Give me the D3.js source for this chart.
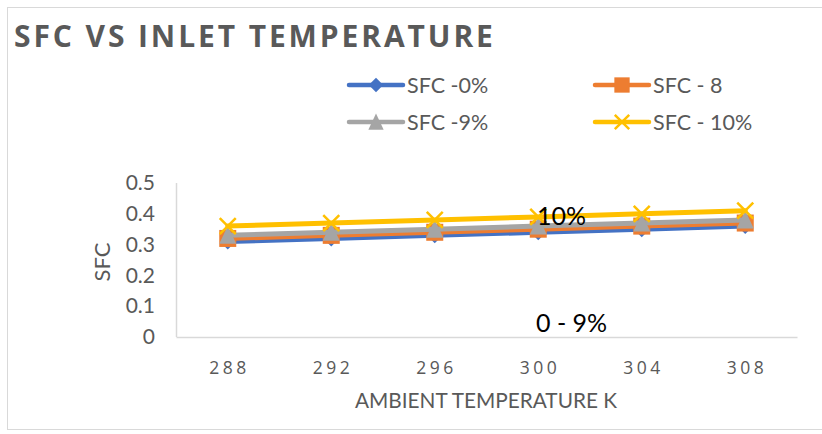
<!DOCTYPE html>
<html>
<head>
<meta charset="utf-8">
<script src="https://cdn.jsdelivr.net/npm/d3@7"></script>
<style>
  html, body { margin: 0; padding: 0; background: #fff; }
  svg text { font-family: Lato, "Open Sans", sans-serif; }
</style>
</head>
<body>
<svg id="chart" width="822" height="434"></svg>
<script>
// Ambient temperature categories (K)
const temperatures = ["288", "292", "296", "300", "304", "308"];

// Specific fuel consumption per series
const sfc0  = [0.31, 0.32, 0.33, 0.34, 0.35, 0.36];
const sfc8  = [0.32, 0.33, 0.34, 0.35, 0.36, 0.37];
const sfc9  = [0.33, 0.34, 0.35, 0.36, 0.37, 0.38];
const sfc10 = [0.36, 0.37, 0.38, 0.39, 0.40, 0.41];

const seriesNames  = ["SFC -0%", "SFC - 8", "SFC -9%", "SFC - 10%"];
const seriesColors = ["#4472C4", "#ED7D31", "#A5A5A5", "#FFC000"];
const seriesMarkers = ["diamond", "square", "triangle", "cross"];

const yTicks = [0, 0.1, 0.2, 0.3, 0.4, 0.5];

const series = [sfc0, sfc8, sfc9, sfc10].map((vals, i) => ({
  name: seriesNames[i], color: seriesColors[i], marker: seriesMarkers[i], values: vals
}));

const svg = d3.select("#chart");
const textGrey = "#595959";

// chart frame
svg.append("rect")
  .attr("x", 7.5).attr("y", 7.5).attr("width", 830).attr("height", 422)
  .attr("fill", "none").attr("stroke", "#d9d9d9").attr("stroke-width", 1);

// title
svg.append("text")
  .attr("x", 14).attr("y", 47)
  .attr("fill", textGrey)
  .style("font-family", "'Open Sans', sans-serif")
  .style("font-size", "30px").style("font-weight", "bold").style("letter-spacing", "2.9px")
  .text("SFC VS INLET TEMPERATURE");

const plot = { left: 176, right: 797, top: 183, bottom: 337 };

const x = d3.scaleBand().domain(temperatures).range([plot.left, plot.right]);
const y = d3.scaleLinear().domain([0, 0.5]).range([plot.bottom, plot.top]);

// vertical axis line
svg.append("line")
  .attr("x1", plot.left + 0.5).attr("x2", plot.left + 0.5)
  .attr("y1", plot.top).attr("y2", plot.bottom)
  .attr("stroke", "#d9d9d9").attr("stroke-width", 1.5);

const xAxis = d3.axisBottom(x).tickSize(0).tickPadding(25);
const xg = svg.append("g").attr("transform", `translate(0,${plot.bottom})`).call(xAxis);
xg.select(".domain").attr("stroke", "#d9d9d9").attr("stroke-width", 1.5);
xg.selectAll("text")
  .attr("fill", textGrey)
  .attr("dx", 1.75)
  .style("font-size", "17.5px").style("letter-spacing", "3.5px")
  .style("font-family", "'Open Sans', sans-serif");

const yAxis = d3.axisLeft(y).tickValues(yTicks).tickSize(0).tickPadding(21)
  .tickFormat(d => d === 0 ? "0" : d3.format(".1f")(d));
const yg = svg.append("g").attr("transform", `translate(${plot.left},0)`).call(yAxis);
yg.select(".domain").remove();
yg.selectAll("text")
  .attr("fill", textGrey)
  .style("font-size", "21px");

// axis titles
svg.append("text")
  .attr("x", 355).attr("y", 408)
  .attr("fill", textGrey)
  .attr("textLength", 262).attr("lengthAdjust", "spacingAndGlyphs")
  .style("font-size", "21px")
  .text("AMBIENT TEMPERATURE K");

svg.append("text")
  .attr("transform", "translate(110,262) rotate(-90)")
  .attr("text-anchor", "middle").attr("fill", textGrey)
  .style("font-size", "22px")
  .text("SFC");

// marker painter
function drawMarker(g, type, color, cx, cy, scale) {
  const s = scale || 1;
  if (type === "diamond") {
    const r = 8 * s;
    g.append("path")
      .attr("d", `M${cx},${cy - r}L${cx + r},${cy}L${cx},${cy + r}L${cx - r},${cy}Z`)
      .attr("fill", color);
  } else if (type === "square") {
    const h = 8.5 * s;
    g.append("rect")
      .attr("x", cx - h).attr("y", cy - h).attr("width", 2 * h).attr("height", 2 * h)
      .attr("fill", color);
  } else if (type === "triangle") {
    const h = 8.5 * s;
    g.append("path")
      .attr("d", `M${cx},${cy - h * 1.1}L${cx + h},${cy + h}L${cx - h},${cy + h}Z`)
      .attr("fill", color);
  } else if (type === "cross") {
    const h = 8 * s;
    g.append("path")
      .attr("d", `M${cx - h},${cy - h}L${cx + h},${cy + h}M${cx - h},${cy + h}L${cx + h},${cy - h}`)
      .attr("stroke", color).attr("stroke-width", 2.5).attr("fill", "none");
  }
}

// series lines and markers
const line = d3.line()
  .x((d, i) => x(temperatures[i]) + x.bandwidth() / 2)
  .y(d => y(d));

series.forEach(s => {
  const g = svg.append("g");
  g.append("path")
    .datum(s.values)
    .attr("d", line)
    .attr("fill", "none")
    .attr("stroke", s.color)
    .attr("stroke-width", 5)
    .attr("stroke-linecap", "round");
  s.values.forEach((v, i) => {
    drawMarker(g, s.marker, s.color, x(temperatures[i]) + x.bandwidth() / 2, y(v));
  });
});

// annotations
svg.append("text")
  .attr("x", 537).attr("y", 225).attr("fill", "#000")
  .style("font-size", "25px")
  .text("10%");
svg.append("text")
  .attr("x", 536).attr("y", 332).attr("fill", "#000")
  .style("font-size", "25px")
  .text("0 - 9%");

// legend
const legendPos = [
  { lx: 349, ly: 85 }, { lx: 595, ly: 85 },
  { lx: 349, ly: 122 }, { lx: 595, ly: 122 }
];
series.forEach((s, i) => {
  const p = legendPos[i];
  const g = svg.append("g");
  g.append("line")
    .attr("x1", p.lx).attr("x2", p.lx + 54)
    .attr("y1", p.ly).attr("y2", p.ly)
    .attr("stroke", s.color).attr("stroke-width", 4.5).attr("stroke-linecap", "round");
  drawMarker(g, s.marker, s.color, p.lx + 27, p.ly, 0.9);
  g.append("text")
    .attr("x", p.lx + 58).attr("y", p.ly + 7.5)
    .attr("fill", textGrey)
    .style("font-size", "21.5px")
    .text(s.name);
});
</script>
</body>
</html>
